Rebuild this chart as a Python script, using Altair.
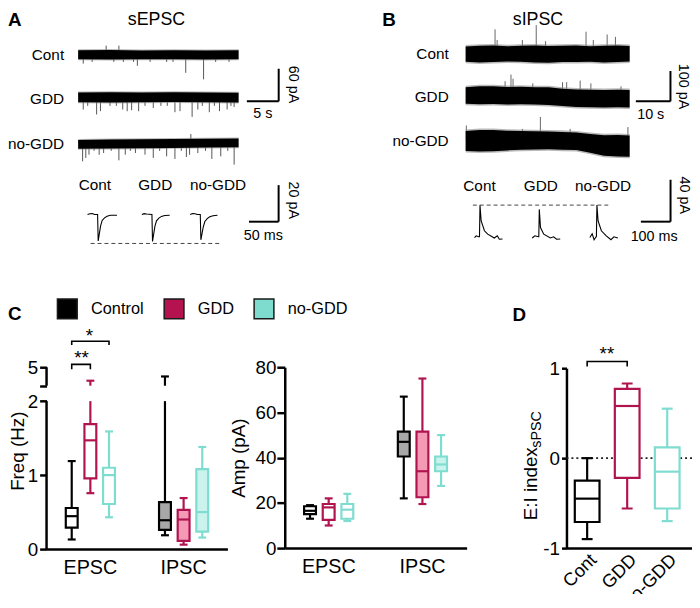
import altair as alt
import pandas as pd

FONT = "Liberation Sans"

ROWS = ["Cont", "GDD", "no-GDD"]
GROUPS = ["Control", "GDD", "no-GDD"]
CATS = ["EPSC", "IPSC"]

STROKE = ["#000000", "#b0144f", "#7fdcd0"]
LEGEND_FILL = ["#000000", "#b5134f", "#7edccf"]
IPSC_FILL = ["#a8a8a8", "#f59ab4", "#c9f3ec"]

# ---------------- Panel A : sEPSC raw traces (time s, current pA) ----------------
A_ENV_T = [0, 5, 10, 15, 20, 25.2]
A_ENV_HI = [[8.5, 9, 8, 8.5, 8, 8.5],
            [12.5, 13, 12.5, 13, 12.5, 12],
            [7, 8, 8.5, 9, 9.5, 10]]
A_ENV_LO = [[-8, -8.5, -8, -8, -8.5, -8],
            [-5.5, -6, -5.5, -5, -5.5, -6],
            [-9, -8.5, -8, -7.5, -7, -6.5]]
A_SPK_T = [
    [0.8, 2.2, 4.4, 5.6, 6.4, 7.1, 8.7, 9.3, 11.3, 13.9, 14.9, 16.9, 19.7, 21.6, 23.7],
    [0.8, 1.5, 2.9, 3.5, 5.0, 6.0, 7.0, 7.7, 8.4, 9.5, 10.5, 11.8, 13.0, 14.0, 15.2, 16.0,
     17.9, 18.8, 19.5, 20.6, 21.4, 22.2, 23.4, 24.0, 24.5],
    [0.7, 1.2, 1.7, 2.5, 3.3, 4.0, 5.2, 6.4, 7.4, 8.2, 9.0, 10.5, 11.8, 12.8, 13.9, 15.2,
     16.2, 17.0, 17.5, 17.7, 18.8, 20.0, 21.0, 22.4, 23.5, 24.5],
]
A_SPK_V = [
    [-16, -13, 17, -13, 17, -13, -13, -20, -13, -13, -13, -33, -45, -13, -13],
    [-18.7, -12, -27.8, -21.8, -12, -12, -18.7, -21.8, -20, -21.8, -12, -15.8, -12, -12, -23.6,
     -21.8, -32.2, -18.7, -12, -23.6, -12, -21.8, -18.7, -12, -14],
    [-32.2, -26, -20, -13, -20, -16.9, -13, -30.4, -20, -13, -16.9, -20, -26, -13, -23.1, -27.8,
     -13, -24.2, -20, 18, -16.9, -13, -27.8, -23.1, -13, -38.2],
]
# average sEPSC (time ms, current pA)
A_AVG_T = [[-18, -14, -10, -6, -1, 0, 4, 6.7, 10.7, 15, 20.6, 31.7],
           [-18, -14, -10, -6, -1, 0, 4, 6.7, 10.7, 15, 20.6, 29],
           [-18, -14, -10, -6, -1, 0, 4, 6.7, 10.7, 15, 20.6, 28]]
A_AVG_V = [[0, 0.4, 0.6, 0, 0, -14.4, -6.3, -3.2, -1.8, -0.9, -0.4, -0.4],
           [0, 0.5, 0.3, 0.2, 0, -14.7, -6.5, -3.4, -1.9, -1.0, -0.5, -0.4],
           [0, 0.6, 0.4, 0, 0, -13.8, -6.8, -3.8, -2.2, -1.2, -0.6, -0.4]]

# ---------------- Panel B : sIPSC raw traces ----------------
B_ENV_T = [0, 4, 8, 12, 16, 20, 24, 28, 32, 36, 40, 44, 47.4]
B_ENV_HI = [[24, 27, 28, 25, 27, 28, 26, 27, 28, 25, 27, 28, 26],
            [33, 36, 36, 34, 35, 33, 33, 28, 26, 25, 24, 25, 24],
            [32, 35, 35, 33, 32, 31, 30, 29, 27, 22, 18, 19, 17]]
B_ENV_LO = [[-26, -28, -27, -25, -26, -28, -29, -27, -27, -26, -28, -27, -25],
            [-21, -23, -22, -24, -23, -24, -25, -29, -32, -33, -34, -33, -34],
            [-34, -36, -35, -32, -30, -29, -28, -30, -31, -40, -50, -52, -53]]
B_SPK_T = [[8.5, 9.1, 16.4, 20.4, 23.1, 34.8, 36.9, 40.9, 43.3],
           [11.4, 13.1, 13.7, 19.4, 28.0, 29.2, 33.1, 36.2, 44.9],
           [0.2, 7.8, 16.4, 21.6, 30.2, 46.9]]
B_SPK_V = [[81, 46, 46, 95, 42, 73, 46, 64, 56],
           [53, 75, 61, 46, 50, 50, 55, 46, 36],
           [50, 34, 39, 78, 39, 45]]
B_AVG_T = [[-16.7, -11, -3, 0, 1.7, 5.7, 16.7, 27.7, 40, 50, 60, 67, 77.7],
           [-22.3, -13.3, -1.7, 0, 1.7, 5.7, 16.7, 39, 50, 60, 72.3],
           [-22, -14.3, -7.7, -1, 0, 1.7, 5.7, 16.7, 33.3, 49, 59, 72.3]]
B_AVG_V = [[-0.9, 0.9, 0, 0, 30, 15.1, 5.7, 2.5, 0.5, -1.2, 1, -2.4, -2.2],
           [-1.2, 0.9, 0, 0, 26.1, 8.8, 2.5, -1.2, 0, -2.4, -2.2],
           [-0.7, 2.8, -2.8, 0, 0, 30.2, 15.1, 5.7, 0.9, -2.8, 0, -1.2]]

# ---------------- Panel C / D box statistics: [min, q1, median, q3, max] ----------------
FREQ = {"EPSC": [[0.13, 0.29, 0.445, 0.556, 1.19], [0.756, 0.956, 1.47, 1.69, 3.54], [0.43, 0.61, 1.0, 1.10, 1.59]],
        "IPSC": [[0.187, 0.26, 0.39, 0.636, 4.0], [0.06, 0.11, 0.40, 0.53, 0.69], [0.156, 0.236, 0.50, 1.08, 1.38]]}
AMP = {"EPSC": [[13, 15, 16.5, 18.5, 19], [10, 12.5, 18, 19.5, 22], [12, 13, 17, 19.5, 24]],
       "IPSC": [[22, 40.5, 47, 51.5, 67], [19.5, 22.5, 34, 51.5, 75], [27.5, 34, 37, 40.5, 50]]}
EI = [[-0.9, -0.71, -0.45, -0.25, 0.0], [-0.56, -0.22, 0.58, 0.77, 0.83], [-0.7, -0.56, -0.15, 0.12, 0.55]]

FREQ_BREAK = (2, 3)  # broken y axis in Freq panel


def qs(dom):
    return alt.Scale(domain=dom, nice=False, zero=False)


def text_layer(df, X, Y, **kw):
    base = dict(fontSize=15.5, align="center", baseline="middle", color="black")
    base.update(kw)
    return alt.Chart(df).mark_text(**base).encode(x=X("t"), y=Y("v"), text="text:N")


def raw_layers(letter, letter_x, title, title_t, env_t, env_hi, env_lo, spk_t, spk_v, gap,
               xd, yd, label_t, sb, sb_txt, spike_color, fuzz):
    def X(f="t"):
        return alt.X(f"{f}:Q", scale=qs(xd), axis=None)

    def Y(f="v"):
        return alt.Y(f"{f}:Q", scale=qs(yd), axis=None)

    env = pd.DataFrame([dict(row=r, t=t, v=hi - i * gap, v2=lo - i * gap,
                             f=hi + fuzz - i * gap, f2=lo - fuzz - i * gap)
                        for i, r in enumerate(ROWS) for t, hi, lo in zip(env_t, env_hi[i], env_lo[i])])
    spk = pd.DataFrame([dict(row=r, t=t, v=-i * gap, v2=s - i * gap)
                        for i, r in enumerate(ROWS) for t, s in zip(spk_t[i], spk_v[i])])
    lab = pd.DataFrame([dict(text=r, t=label_t, v=-i * gap) for i, r in enumerate(ROWS)])
    ct, cv, dt, dv = sb
    bars = pd.DataFrame([dict(t=ct, t2=ct, v=cv, v2=cv + dv), dict(t=ct - dt, t2=ct, v=cv, v2=cv)])

    spikes = alt.Chart(spk).mark_rule(color=spike_color, strokeWidth=1).encode(
        x=X(), y=Y(), y2=alt.Y2("v2"))
    halo = alt.Chart(env).mark_area(color="#8a8a8a", opacity=0.6).encode(
        x=X(), y=Y("f"), y2=alt.Y2("f2"), detail="row:N")
    band = alt.Chart(env).mark_area(color="black").encode(x=X(), y=Y(), y2=alt.Y2("v2"), detail="row:N")
    labels = text_layer(lab, X, Y, align="right")
    sbar = alt.Chart(bars).mark_rule(color="black", strokeWidth=2).encode(
        x=X(), x2=alt.X2("t2"), y=Y(), y2=alt.Y2("v2"))
    rot = text_layer(pd.DataFrame([sb_txt[0]]), X, Y, angle=90, fontSize=14.5)
    hor = text_layer(pd.DataFrame([sb_txt[1]]), X, Y, fontSize=14.5)
    let = alt.Chart(pd.DataFrame({"text": [letter]})).mark_text(
        align="left", baseline="top", fontSize=19, fontWeight="bold", color="black").encode(
        x=alt.value(letter_x), y=alt.value(0), text="text:N")
    ttl = alt.Chart(pd.DataFrame({"text": [title], "t": [title_t]})).mark_text(
        align="center", baseline="top", fontSize=18, color="black").encode(
        x=X(), y=alt.value(0), text="text:N")
    return alt.layer(spikes, halo, band, labels, sbar, rot, hor, let, ttl)


def avg_layers(tr_t, tr_v, offsets, xd, yd, dash, labs, sb, sb_txt):
    def X(f="t"):
        return alt.X(f"{f}:Q", scale=qs(xd), axis=None)

    def Y(f="v"):
        return alt.Y(f"{f}:Q", scale=qs(yd), axis=None)

    tr = pd.DataFrame([dict(row=r, k=k, t=t + offsets[i], v=v)
                       for i, r in enumerate(ROWS) for k, (t, v) in enumerate(zip(tr_t[i], tr_v[i]))])
    lines = alt.Chart(tr).mark_line(color="black", strokeWidth=1.1).encode(
        x=X(), y=Y(), detail="row:N", order="k:Q")
    d = pd.DataFrame([dict(t=dash[0], t2=dash[1], v=dash[2], v2=dash[2])])
    dashed = alt.Chart(d).mark_rule(color="#444", strokeWidth=1, strokeDash=[4, 3]).encode(
        x=X(), x2=alt.X2("t2"), y=Y(), y2=alt.Y2("v2"))
    lab = pd.DataFrame([dict(text=r, t=p[0], v=p[1]) for r, p in zip(ROWS, labs)])
    labels = text_layer(lab, X, Y)
    ct, cv, dt, dv = sb
    bars = pd.DataFrame([dict(t=ct, t2=ct, v=cv, v2=cv + dv), dict(t=ct - dt, t2=ct, v=cv, v2=cv)])
    sbar = alt.Chart(bars).mark_rule(color="black", strokeWidth=2).encode(
        x=X(), x2=alt.X2("t2"), y=Y(), y2=alt.Y2("v2"))
    rot = text_layer(pd.DataFrame([sb_txt[0]]), X, Y, angle=90, fontSize=14.5)
    hor = text_layer(pd.DataFrame([sb_txt[1]]), X, Y, fontSize=14.5)
    return alt.layer(dashed, lines, labels, sbar, rot, hor)


W_TOP, H_TOP = 342, 247

A_raw = raw_layers("A", 0, "sEPSC", 12.3, A_ENV_T, A_ENV_HI, A_ENV_LO, A_SPK_T, A_SPK_V, 81.8,
                   [-11.02, 42.08], [-369.1, 80.0], -2.2, (31.5, -85.5, 5, 60),
                   [dict(text="60 pA", t=33.7, v=-54.5), dict(text="5 s", t=29.0, v=-109)],
                   "#555555", 1.8)
A_avg = avg_layers(A_AVG_T, A_AVG_V, [0, 91.7, 173.3], [-152.2, 418.3], [-22.4, 111.1],
                   (-12.7, 206.7, -15.8), [(-5.5, 15.9), (96.2, 15.9), (202.3, 15.9)],
                   (304.5, -3.9, 50, 20),
                   [dict(text="20 pA", t=328, v=7.8), dict(text="50 ms", t=278.7, v=-11.6)])
B_raw = raw_layers("B", 36.7, "sIPSC", 20.9, B_ENV_T, B_ENV_HI, B_ENV_LO, B_SPK_T, B_SPK_V, 143,
                   [-34.57, 63.14], [-664.5, 140.1], -4.9, (59.2, -156.4, 10, 100),
                   [dict(text="100 pA", t=62.9, v=-107.5), dict(text="10 s", t=53.5, v=-200.3)],
                   "#666666", 5.0)
B_avg = avg_layers(B_AVG_T, B_AVG_V, [0, 200, 394.3], [-450, 690], [-17.92, 215.1],
                   (-22.3, 444.3, 30.2), [(0, 48.1), (206.7, 48.1), (416.7, 48.1)],
                   (644.3, 14.4, 100, 40),
                   [dict(text="40 pA", t=688, v=39.6), dict(text="100 ms", t=589, v=0)])

A_panel = alt.layer(A_raw, A_avg).resolve_scale(x="independent", y="independent").properties(
    width=W_TOP, height=H_TOP)
B_panel = alt.layer(B_raw, B_avg).resolve_scale(x="independent", y="independent").properties(
    width=W_TOP, height=H_TOP)

top = alt.hconcat(A_panel, B_panel, spacing=0, bounds="flush")


# ---------------- box-plot helpers ----------------
def box_frames(stats, fills, brk=None):
    boxes, whisk, caps = [], [], []
    for cat, per_group in stats.items():
        for gi, (g, s) in enumerate(zip(GROUPS, per_group)):
            mn, q1, md, q3, mx = s
            fill = fills[cat][gi]
            boxes.append(dict(cat=cat, group=g, q1=q1, med=md, q3=q3, stroke=STROKE[gi], fill=fill))
            segs = [(mn, q1)]
            if brk is not None and mx > brk[1]:
                segs += [(q3, brk[0]), (brk[1], mx)]
            else:
                segs.append((q3, mx))
            for lo, hi in segs:
                whisk.append(dict(cat=cat, group=g, lo=lo, hi=hi, stroke=STROKE[gi]))
            for v in (mn, mx):
                caps.append(dict(cat=cat, group=g, val=v, stroke=STROKE[gi]))
    return pd.DataFrame(boxes), pd.DataFrame(whisk), pd.DataFrame(caps)


def box_layers(stats, fills, Xe, XOe, Yf, box_w, cap_w, brk=None):
    boxes, whisk, caps = box_frames(stats, fills, brk)
    enc = dict(x=Xe, xOffset=XOe)
    w = alt.Chart(whisk).mark_rule(strokeWidth=2.2).encode(
        y=Yf("lo"), y2=alt.Y2("hi"), stroke=alt.Stroke("stroke:N", scale=None), **enc)
    b = alt.Chart(boxes).mark_bar(width=box_w, strokeWidth=2.2).encode(
        y=Yf("q1"), y2=alt.Y2("q3"), fill=alt.Fill("fill:N", scale=None),
        stroke=alt.Stroke("stroke:N", scale=None), **enc)
    m = alt.Chart(boxes).mark_tick(size=box_w, thickness=2.2, opacity=1).encode(
        y=Yf("med"), fill=alt.Fill("stroke:N", scale=None), **enc)
    c = alt.Chart(caps).mark_tick(size=cap_w, thickness=2.2, opacity=1).encode(
        y=Yf("val"), fill=alt.Fill("stroke:N", scale=None), **enc)
    return [w, b, m, c]


WHITE = ["#ffffff"] * 3
FILLS2 = {"EPSC": WHITE, "IPSC": IPSC_FILL}

X_AX = dict(title=None, ticks=False, labelAngle=0, labelFontSize=20, labelPadding=9)
Xc = alt.X("cat:N", scale=alt.Scale(domain=CATS, paddingInner=0.4, paddingOuter=0.17), axis=alt.Axis(**X_AX))
XO = alt.XOffset("group:N", scale=alt.Scale(domain=GROUPS, paddingInner=0, paddingOuter=0))

H_C = 184


def yF(field):
    return alt.Y(f"{field}:Q",
                 scale=alt.Scale(domain=[0, 2, 3, 5], range=[H_C, 34.3, 18.7, 0], nice=False, zero=False),
                 axis=alt.Axis(values=[0, 1, 2, 3, 5], labelExpr="datum.value == 3 ? '' : datum.label",
                               domain=False, tickSize=7, labelFontSize=19, labelPadding=2, title=None))


seg = pd.DataFrame([dict(lo=0, hi=FREQ_BREAK[0]), dict(lo=FREQ_BREAK[1], hi=5)])
axis_segs = alt.Chart(seg).mark_rule(color="black", strokeWidth=2.5).encode(
    x=alt.value(0), y=yF("lo"), y2=alt.Y2("hi"))

brk = pd.DataFrame([
    dict(id="a", k=0, cat="EPSC", group="Control", val=4.79),
    dict(id="a", k=1, cat="EPSC", group="Control", val=5.31),
    dict(id="a", k=2, cat="EPSC", group="GDD", val=5.31),
    dict(id="a", k=3, cat="EPSC", group="GDD", val=4.79),
    dict(id="b", k=0, cat="EPSC", group="Control", val=7.40),
    dict(id="b", k=1, cat="EPSC", group="Control", val=7.81),
    dict(id="b", k=2, cat="EPSC", group="no-GDD", val=7.81),
    dict(id="b", k=3, cat="EPSC", group="no-GDD", val=7.40),
])
brackets_c = alt.Chart(brk).mark_line(color="black", strokeWidth=1.6).encode(
    x=Xc, xOffset=XO, y=yF("val"), detail="id:N", order="k:Q")
stars_c = alt.layer(*[
    alt.Chart(pd.DataFrame([r])).mark_text(fontSize=19, baseline="middle", color="black", dx=r["dx"]).encode(
        x=Xc, xOffset=XO, y=yF("val"), text="text:N")
    for r in [dict(cat="EPSC", group="GDD", val=6.0, text="**", dx=-9),
              dict(cat="EPSC", group="GDD", val=8.4, text="*", dx=-1)]])

legend_layer = alt.Chart(pd.DataFrame({"group": GROUPS})).transform_filter("false").mark_square(
    stroke="#1a1a1a", strokeWidth=1.5, opacity=1).encode(
    color=alt.Color("group:N", scale=alt.Scale(domain=GROUPS, range=LEGEND_FILL),
                    legend=alt.Legend(orient="none", legendX=49, legendY=290, direction="horizontal",
                                      title=None, symbolType="square", symbolSize=400, symbolOpacity=1,
                                      symbolStrokeColor="#1a1a1a", symbolStrokeWidth=1.5,
                                      labelFontSize=16.5, labelFont=FONT, labelColor="black",
                                      labelOffset=13, columnPadding=17, padding=0)))
letter_c = alt.Chart(pd.DataFrame({"text": ["C"]})).mark_text(
    align="left", baseline="top", fontSize=19, fontWeight="bold", color="black").encode(
    x=alt.value(-39), y=alt.value(-63), text="text:N")
ylab_c = alt.Chart(pd.DataFrame({"text": ["Freq (Hz)"]})).mark_text(
    angle=270, fontSize=19, color="black", align="center", baseline="middle").encode(
    x=alt.value(-28.5), y=alt.value(85), text="text:N")

C_left = alt.layer(axis_segs, *box_layers(FREQ, FILLS2, Xc, XO, yF, 12, 8, FREQ_BREAK),
                   brackets_c, stars_c, legend_layer, letter_c, ylab_c).properties(width=183, height=H_C)


def yA(field):
    return alt.Y(f"{field}:Q", scale=alt.Scale(domain=[0, 80], range=[183, 0], nice=False, zero=False),
                 axis=alt.Axis(values=[0, 20, 40, 60, 80], tickSize=8, labelFontSize=19, labelPadding=1,
                               title="Amp (pA)", titleFontSize=19, titlePadding=7))


Xa = alt.X("cat:N", scale=alt.Scale(domain=CATS, paddingInner=0.4, paddingOuter=0.17), axis=alt.Axis(**X_AX))
C_mid = alt.layer(*box_layers(AMP, FILLS2, Xa, XO, yA, 12, 8)).properties(width=184, height=183)


# ---------------- Panel D ----------------
def yD(field):
    return alt.Y(f"{field}:Q", scale=alt.Scale(domain=[-1, 1], range=[183, 1], nice=False, zero=False),
                 axis=alt.Axis(values=[-1, 0, 1], tickSize=5, labelFontSize=19, labelPadding=2, title=None,
                               labelExpr="datum.value < 0 ? '-' + format(-datum.value, 'd') : format(datum.value, 'd')"))


Xd = alt.X("cat:N", scale=alt.Scale(domain=ROWS, paddingInner=0.33, paddingOuter=0.233, align=0.39),
           axis=alt.Axis(title=None, ticks=False, labelAngle=-45, labelFontSize=18.5, labelPadding=2))
zero_line = alt.Chart(pd.DataFrame({"v": [0]})).mark_rule(
    color="#222", strokeWidth=1.6, strokeDash=[2, 3]).encode(y=yD("v"))


def box_layers_d():
    boxes, whisk, caps = [], [], []
    for gi, (r, s) in enumerate(zip(ROWS, EI)):
        mn, q1, md, q3, mx = s
        boxes.append(dict(cat=r, q1=q1, med=md, q3=q3, stroke=STROKE[gi]))
        for lo, hi in [(mn, q1), (q3, mx)]:
            whisk.append(dict(cat=r, lo=lo, hi=hi, stroke=STROKE[gi]))
        for v in (mn, mx):
            caps.append(dict(cat=r, val=v, stroke=STROKE[gi]))
    boxes, whisk, caps = pd.DataFrame(boxes), pd.DataFrame(whisk), pd.DataFrame(caps)
    w = alt.Chart(whisk).mark_rule(strokeWidth=2.2).encode(
        x=Xd, y=yD("lo"), y2=alt.Y2("hi"), stroke=alt.Stroke("stroke:N", scale=None))
    b = alt.Chart(boxes).mark_bar(width=25, strokeWidth=2.2, fill="white").encode(
        x=Xd, y=yD("q1"), y2=alt.Y2("q3"), stroke=alt.Stroke("stroke:N", scale=None))
    m = alt.Chart(boxes).mark_tick(size=25, thickness=2.2, opacity=1).encode(
        x=Xd, y=yD("med"), fill=alt.Fill("stroke:N", scale=None))
    c = alt.Chart(caps).mark_tick(size=11, thickness=2.2, opacity=1).encode(
        x=Xd, y=yD("val"), fill=alt.Fill("stroke:N", scale=None))
    return [w, b, m, c]


brk_d = pd.DataFrame([dict(k=0, cat="Cont", val=1.019), dict(k=1, cat="Cont", val=1.074),
                      dict(k=2, cat="GDD", val=1.074), dict(k=3, cat="GDD", val=1.019)])
bracket_d = alt.Chart(brk_d).mark_line(color="black", strokeWidth=1.6).encode(
    x=Xd, y=yD("val"), order="k:Q")
star_d = alt.Chart(pd.DataFrame([dict(cat="Cont", val=1.16, text="**")])).mark_text(
    fontSize=19, baseline="middle", color="black", dx=20).encode(x=Xd, y=yD("val"), text="text:N")
ylab_d = alt.Chart(pd.DataFrame({"text": ["E:I index"]})).mark_text(
    angle=270, fontSize=19, color="black", align="center", baseline="middle").encode(
    x=alt.value(-36.3), y=alt.value(117.9), text="text:N")
ysub_d = alt.Chart(pd.DataFrame({"text": ["sPSC"]})).mark_text(
    angle=270, fontSize=14.5, color="black", align="center", baseline="middle").encode(
    x=alt.value(-30), y=alt.value(62.9), text="text:N")
letter_d = alt.Chart(pd.DataFrame({"text": ["D"]})).mark_text(
    align="left", baseline="top", fontSize=19, fontWeight="bold", color="black").encode(
    x=alt.value(-54.7), y=alt.value(-61.3), text="text:N")

D_panel = alt.layer(zero_line, *box_layers_d(), bracket_d, star_d, ylab_d, ysub_d, letter_d).properties(
    width=127, height=183)


def spacer(w):
    return alt.Chart(pd.DataFrame({"z": [0]})).mark_text(text="").encode(x=alt.value(0)).properties(
        width=w, height=10)


bottom = alt.hconcat(spacer(39), C_left, spacer(58), C_mid, spacer(101), D_panel,
                     spacing=0, bounds="flush")

chart = alt.vconcat(top, bottom, spacing=50,
                    autosize=alt.AutoSizeParams(type="none"),
                    padding={"left": 0, "top": 0, "right": 692, "bottom": 586}).configure(
    font=FONT).configure_view(stroke=None).configure_axis(
    domainColor="black", domainWidth=2.5, tickColor="black", tickWidth=2.5, labelColor="black",
    titleColor="black", labelFont=FONT, titleFont=FONT, titleFontWeight="normal", grid=False)

chart.save("out.html", embed_options={"renderer": "svg", "actions": False})
